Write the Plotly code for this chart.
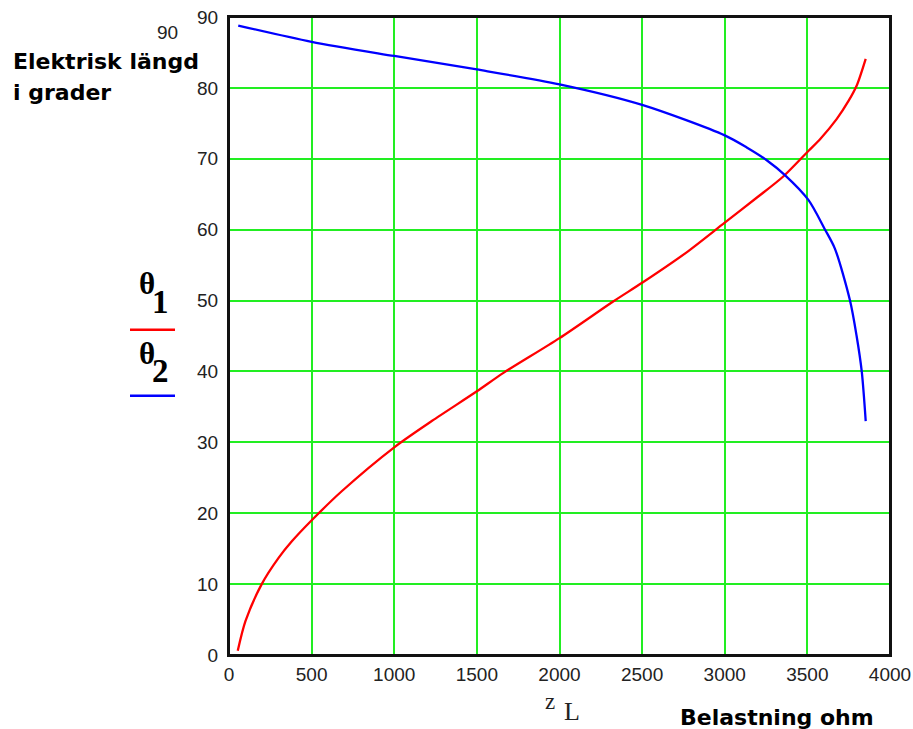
import plotly.graph_objects as go

# Data
z_theta1 = [53, 100, 198, 300, 379, 496, 682, 1000, 1227, 1500, 1661, 2000, 2327, 2500,
            2763, 3000, 3193, 3354, 3506, 3578, 3677, 3750, 3798, 3853]
theta1 = [0.6, 4.8, 10.0, 13.7, 16.0, 18.9, 23.1, 29.3, 33.0, 37.2, 39.8, 44.7, 49.9, 52.5,
          56.7, 61.0, 64.5, 67.5, 71.1, 72.8, 75.6, 78.2, 80.3, 84.1]

z_theta2 = [56, 500, 1000, 1500, 2000, 2500, 3000, 3133, 3254, 3364, 3506, 3607, 3667,
            3758, 3798, 3829, 3853]
theta2 = [88.8, 86.5, 84.5, 82.6, 80.5, 77.6, 73.3, 71.6, 69.8, 67.7, 64.2, 60.0, 57.3,
          50.0, 45.0, 40.0, 33.0]

x_ticks = [0, 500, 1000, 1500, 2000, 2500, 3000, 3500, 4000]
y_ticks = [0, 10, 20, 30, 40, 50, 60, 70, 80, 90]

W, H = 913, 729
L, R, T, B = 229, 890, 17, 655.5


def pp(px, py):
    return (px - L) / (R - L), (B - py) / (B - T)


fig = go.Figure()
fig.add_trace(go.Scatter(x=z_theta1, y=theta1, mode="lines",
                         line=dict(color="#ff0000", width=2.3, shape="spline", smoothing=0.8),
                         showlegend=False))
fig.add_trace(go.Scatter(x=z_theta2, y=theta2, mode="lines",
                         line=dict(color="#0000ff", width=2.3, shape="spline", smoothing=0.8),
                         showlegend=False))

tickfont = dict(family="Liberation Sans", size=19, color="#222222")
grid = "#22ee22"
fig.update_xaxes(range=[0, 4000], tickvals=x_ticks, ticktext=[str(v) for v in x_ticks],
                 showgrid=True, gridcolor=grid, gridwidth=1.6, automargin=False,
                 showline=True, linecolor="#111111", linewidth=2, mirror=True,
                 zeroline=False, ticks="", ticklabelstandoff=1, tickfont=tickfont)
fig.update_yaxes(range=[0, 90], tickvals=y_ticks, ticktext=[str(v) for v in y_ticks],
                 showgrid=True, gridcolor=grid, gridwidth=1.6, automargin=False,
                 showline=True, linecolor="#111111", linewidth=2, mirror=True,
                 zeroline=False, ticks="", ticklabelstandoff=5, tickfont=tickfont)

ann = []


def add_text(px, py, text, font, xanchor="center"):
    x, y = pp(px, py)
    ann.append(dict(x=x, y=y, xref="paper", yref="paper", xanchor=xanchor, yanchor="middle",
                    text=text, showarrow=False, font=font))


bold_sans = dict(family="DejaVu Sans", size=22, color="#000000")
add_text(11, 62, "<b>Elektrisk längd</b>", bold_sans, xanchor="left")
add_text(11, 93, "<b>i grader</b>", bold_sans, xanchor="left")
add_text(167, 33, "90", tickfont)
serif_b = dict(family="Liberation Serif", size=31, color="#000000")
digit_b = dict(family="Liberation Serif", size=33, color="#000000")
add_text(147, 284, "<b>θ</b>", serif_b)
add_text(160, 302, "<b>1</b>", digit_b)
add_text(147, 354, "<b>θ</b>", serif_b)
add_text(160, 371, "<b>2</b>", digit_b)
add_text(550, 702, "z", dict(family="Liberation Serif", size=23, color="#222222"))
add_text(572, 712, "L", dict(family="Liberation Serif", size=26, color="#222222"))
add_text(777, 718, "<b>Belastning ohm</b>", bold_sans)

shapes = []
for py, col in [(330, "#ff0000"), (396, "#0000ff")]:
    x0, y0 = pp(130, py)
    x1, _ = pp(175, py)
    shapes.append(dict(type="line", xref="paper", yref="paper", x0=x0, x1=x1, y0=y0, y1=y0,
                       line=dict(color=col, width=2.5)))
shapes.append(dict(type="rect", xref="paper", yref="paper", x0=0, x1=1, y0=0, y1=1,
                   line=dict(color="#111111", width=2), layer="above"))

fig.update_layout(width=W, height=H, margin=dict(l=L, r=W - R, t=T, b=H - B, pad=0, autoexpand=False),
                  plot_bgcolor="white", paper_bgcolor="white",
                  annotations=ann, shapes=shapes)

fig.write_html("out.html", config={"displayModeBar": False},
               post_script="document.body.style.margin='0';document.body.style.overflow='hidden';")
